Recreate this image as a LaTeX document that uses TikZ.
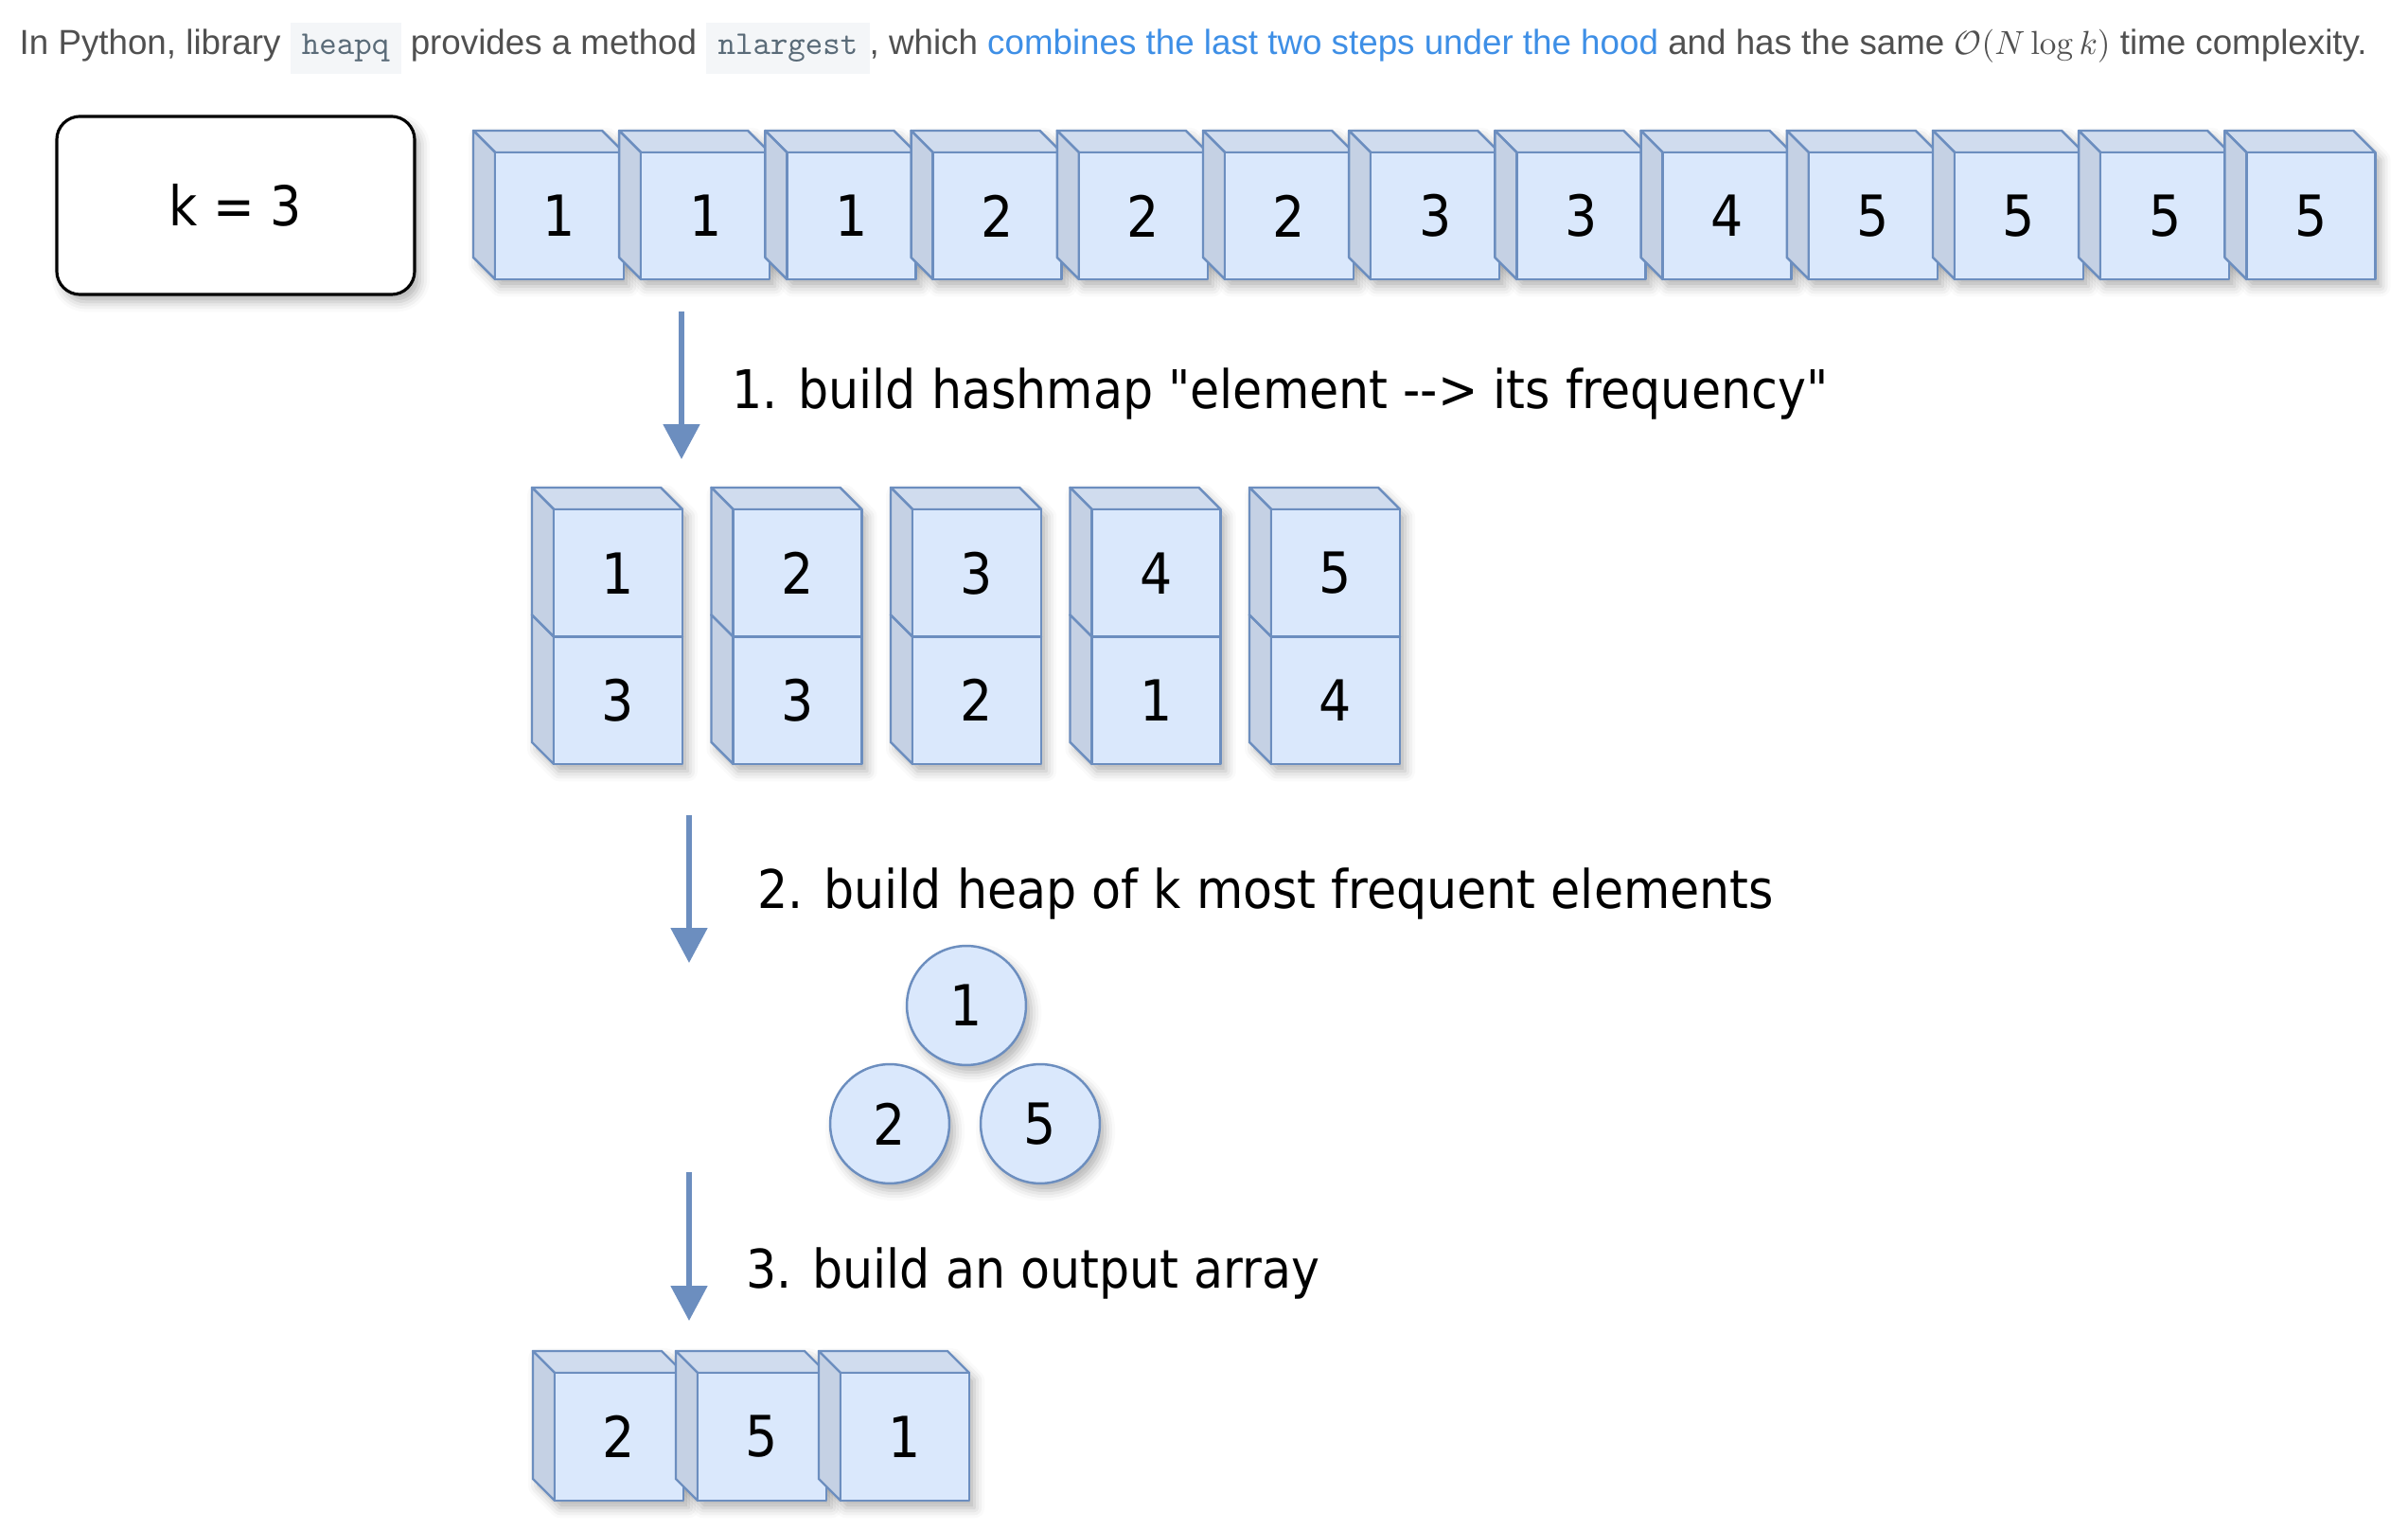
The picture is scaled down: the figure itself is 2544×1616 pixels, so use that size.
\documentclass[tikz,border=0pt]{standalone}
\usepackage[no-math]{fontspec}
\setmainfont{Liberation Sans}
\newfontfamily\handfont[FakeStretch=0.9]{DejaVu Sans}
\usetikzlibrary{arrows.meta, shadows.blur}

\definecolor{cubefront}{HTML}{DAE8FC}
\definecolor{cubetop}{HTML}{D0DCEE}
\definecolor{cubeside}{HTML}{C5D1E4}
\definecolor{cubeedge}{HTML}{6C8EBF}
\definecolor{textgrey}{HTML}{505050}
\definecolor{codegrey}{HTML}{5A6B78}
\definecolor{codebg}{HTML}{F4F6F8}
\definecolor{linkblue}{HTML}{3E8FE6}

\newcommand{\cubewidth}{136}
\newcommand{\cubedepth}{23}
\newcommand{\codebox}[1]{{\setlength{\fboxsep}{3.5pt}\colorbox{codebg}{\textcolor{codegrey}{\ttfamily\fontsize{10}{12}\selectfont #1}}}}

\tikzset{
    cubeline/.style={draw=cubeedge, line width=0.7pt, line join=round},
    softshadow/.style={blur shadow={shadow xshift=1.6pt, shadow yshift=-2.2pt, shadow blur radius=3pt, shadow opacity=30}},
    cubelabel/.style={inner sep=0, font=\handfont\fontsize{17}{20}\selectfont},
    heapnode/.style={circle, draw=cubeedge, fill=cubefront, line width=0.7pt, minimum size=35.8pt, inner sep=0, softshadow, font=\handfont\fontsize{17}{20}\selectfont},
    kbox/.style={draw=black, line width=0.9pt, rounded corners=7pt, fill=white, minimum width=107.5pt, minimum height=53.5pt, softshadow, font=\handfont\fontsize{16.5}{20}\selectfont},
    steptext/.style={anchor=base west, inner sep=0, font=\handfont\fontsize{16}{19}\selectfont},
    flowarrow/.style={draw=cubeedge, line width=1.5pt, -{Triangle[width=10.8pt, length=10.5pt]}}
}

% shadow of a cube outline: x, y, front height
\newcommand{\cubeshadow}[3]{%
    \fill[cubefront, softshadow] (#1,#2) -- ++(\cubewidth,0) -- ++(\cubedepth,\cubedepth) -- ++(0,#3) -- ++(-\cubewidth,0) -- ++(-\cubedepth,-\cubedepth) -- cycle;}

% cube faces: name, x, y, front height, label
\newcommand{\drawcube}[5]{%
    \filldraw[cubeline, fill=cubetop] (#2,#3) -- ++(\cubewidth,0) -- ++(\cubedepth,\cubedepth) -- ++(-\cubewidth,0) -- cycle;
    \filldraw[cubeline, fill=cubeside] (#2,#3) -- ++(\cubedepth,\cubedepth) -- ++(0,#4) -- ++(-\cubedepth,-\cubedepth) -- cycle;
    \filldraw[cubeline, fill=cubefront] (#2+\cubedepth,#3+\cubedepth) rectangle ++(\cubewidth,#4);
    \node[cubelabel] (#1) at (#2+\cubedepth+\cubewidth/2, #3+\cubedepth+#4/2) {#5};}

\begin{document}
\begin{tikzpicture}[x=0.01cm, y=-0.01cm]

    \useasboundingbox (0,0) rectangle (2544,1616);

    % ==========================================
    % 1. INTRO LINE
    % ==========================================
    \node[anchor=base west, inner sep=0, text=textgrey, font=\fontsize{10.45}{12}\selectfont] (intro) at (20,58)
        {In Python, library \codebox{heapq} provides a method \codebox{nlargest}, which \textcolor{linkblue}{combines the last two steps under the hood} and has the same $\mathcal{O}(N\log k)$ time complexity.};

    % ==========================================
    % 2. INPUT ARRAY & k
    % ==========================================
    \node[kbox] (kval) at (249,217) {k = 3};

    \foreach \v [count=\i from 0] in {1,1,1,2,2,2,3,3,4,5,5,5,5} {
        \cubeshadow{500+154.2*\i}{138}{134}
    }
    \foreach \v [count=\i from 0] in {1,1,1,2,2,2,3,3,4,5,5,5,5} {
        \drawcube{in\i}{500+154.2*\i}{138}{134}{\v}
    }

    % ==========================================
    % 3. STEP 1: HASHMAP
    % ==========================================
    \coordinate (arr1s) at (720,329);
    \coordinate (arr1e) at (720,485);
    \draw[flowarrow] (arr1s) -- (arr1e);
    \node[steptext] (step1) at (773,432) {1. build hashmap "element --> its frequency"};

    \foreach \key/\freq [count=\i from 0] in {1/3,2/3,3/2,4/1,5/4} {
        \cubeshadow{562+189.5*\i}{515}{269}
    }
    \foreach \key/\freq [count=\i from 0] in {1/3,2/3,3/2,4/1,5/4} {
        \drawcube{freq\i}{562+189.5*\i}{649.5}{134.5}{\freq}
        \drawcube{key\i}{562+189.5*\i}{515}{134.5}{\key}
    }

    % ==========================================
    % 4. STEP 2: HEAP
    % ==========================================
    \coordinate (arr2s) at (728,861);
    \coordinate (arr2e) at (728,1017);
    \draw[flowarrow] (arr2s) -- (arr2e);
    \node[steptext] (step2) at (800,960) {2. build heap of k most frequent elements};

    \node[heapnode] (heaptop) at (1021,1062) {1};
    \node[heapnode] (heapleft) at (940,1187) {2};
    \node[heapnode] (heapright) at (1099,1187) {5};

    % ==========================================
    % 5. STEP 3: OUTPUT
    % ==========================================
    \coordinate (arr3s) at (728,1238);
    \coordinate (arr3e) at (728,1395);
    \draw[flowarrow] (arr3s) -- (arr3e);
    \node[steptext] (step3) at (788,1360) {3. build an output array};

    \foreach \v [count=\i from 0] in {2,5,1} {
        \cubeshadow{563+151*\i}{1427}{135}
    }
    \foreach \v [count=\i from 0] in {2,5,1} {
        \drawcube{out\i}{563+151*\i}{1427}{135}{\v}
    }

\end{tikzpicture}
\end{document}
